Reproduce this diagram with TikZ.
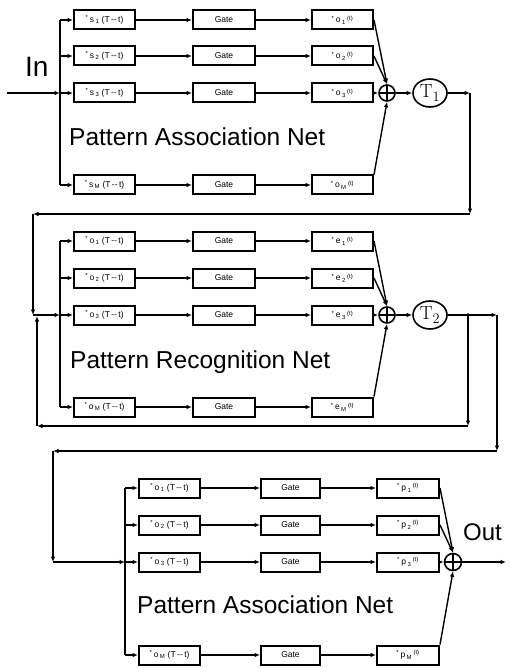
\documentclass[tikz,border=0pt]{standalone}
\usepackage{fontspec}
\newfontfamily\helv{Liberation Sans}
\usetikzlibrary{arrows.meta,shapes.geometric}

\newcommand{\tpast}[2]{\textsuperscript{*}\,#1\,\textsubscript{#2}\ (T\,--\,t)}
\newcommand{\tnow}[2]{\textsuperscript{*}\,#1\,\textsubscript{#2}\,\textsuperscript{(t)}}

\tikzset{
  blk/.style={draw, line width=2pt, minimum width=61pt, minimum height=19pt,
    inner sep=0pt, font=\helv\fontsize{8.5}{9}\selectfont},
  sum/.style={draw, circle, line width=1.6pt, minimum size=16pt, inner sep=0pt,
    path picture={\draw[line width=1.4pt]
      (path picture bounding box.north) -- (path picture bounding box.south)
      (path picture bounding box.west) -- (path picture bounding box.east);}},
  delay/.style={draw, ellipse, line width=1.6pt, minimum width=34pt,
    minimum height=28pt, inner sep=0pt, font=\fontsize{19}{19}\selectfont},
  lead/.style={line width=1.4pt},
  wire/.style={lead, -{Latex[length=5.5pt,width=4.5pt]}},
  netname/.style={anchor=base west, inner sep=0pt, font=\helv\fontsize{24.5}{25}\selectfont},
}

\begin{document}
\begin{tikzpicture}[x=1pt, y=-1pt]
  \useasboundingbox (0,0) rectangle (510,668);

  % first association net
  \foreach \i/\y in {1/20, 2/56, 3/93, M/185}{
    \coordinate (A-bus-\i) at (60,\y);
    \node[blk] (A-in-\i) at (104.5,\y) {\tpast{s}{\i}};
    \node[blk, minimum width=62pt] (A-gate-\i) at (224,\y) {Gate};
    \node[blk] (A-out-\i) at (342.5,\y) {\tnow{o}{\i}};
    \draw[wire] (A-bus-\i) -- (A-in-\i);
    \draw[wire] (A-in-\i) -- (A-gate-\i);
    \draw[wire] (A-gate-\i) -- (A-out-\i);
  }
  \draw[lead] (A-bus-1) -- (A-bus-M);
  \node[sum] (A-sum) at (387,93) {};
  \node[delay] (A-delay) at (430,93) {$\mathrm{T}_1$};
  \draw[wire] (A-out-1.east) -- (A-sum.north);
  \draw[wire] (A-out-2.east) -- (A-sum.north);
  \draw[wire] (A-out-3) -- (A-sum);
  \draw[wire] (A-out-M.north east) -- (A-sum.south);
  \draw[wire] (A-sum) -- (A-delay);
  \node[netname] (A-name) at (69,146) {Pattern Association Net};

  % input
  \coordinate (in) at (7,93);
  \draw[wire] (in) -- (A-bus-3);
  \node[anchor=base west, inner sep=0pt, font=\helv\fontsize{28}{28}\selectfont] (in-label) at (25,77) {In};

  % recognition net
  \foreach \i/\y in {1/241, 2/278, 3/315, M/407}{
    \coordinate (B-bus-\i) at (60,\y);
    \node[blk] (B-in-\i) at (104.5,\y) {\tpast{o}{\i}};
    \node[blk, minimum width=62pt] (B-gate-\i) at (224,\y) {Gate};
    \node[blk] (B-out-\i) at (342.5,\y) {\tnow{e}{\i}};
    \draw[wire] (B-bus-\i) -- (B-in-\i);
    \draw[wire] (B-in-\i) -- (B-gate-\i);
    \draw[wire] (B-gate-\i) -- (B-out-\i);
  }
  \draw[lead] (B-bus-1) -- (B-bus-M);
  \node[sum] (B-sum) at (387,315) {};
  \node[delay] (B-delay) at (430,315) {$\mathrm{T}_2$};
  \draw[wire] (B-out-1.east) -- (B-sum.north);
  \draw[wire] (B-out-2.east) -- (B-sum.north);
  \draw[wire] (B-out-3) -- (B-sum);
  \draw[wire] (B-out-M.north east) -- (B-sum.south);
  \draw[wire] (B-sum) -- (B-delay);
  \node[netname] (B-name) at (70,368) {Pattern Recognition Net};

  % T1 output round to the recognition net
  \coordinate (A-c1) at (470,93);
  \coordinate (A-c2) at (470,214);
  \coordinate (A-c3) at (33,214);
  \coordinate (A-c4) at (33,315);
  \draw[wire] (A-delay) -- (A-c1);
  \draw[wire] (A-c1) -- (A-c2);
  \draw[wire] (A-c2) -- (A-c3);
  \draw[wire] (A-c3) -- (A-c4);
  \draw[wire] (A-c4) -- (B-bus-3);

  % T2 output: fed back, and on to the last net
  \coordinate (B-j) at (468,315);
  \coordinate (B-k1) at (468,426);
  \coordinate (B-k2) at (37,426);
  \coordinate (B-k3) at (37,316);
  \coordinate (B-c1) at (497,315);
  \coordinate (B-c2) at (497,451);
  \coordinate (B-c3) at (53,451);
  \coordinate (B-c4) at (53,562);
  \draw[lead] (B-delay) -- (B-j);
  \fill (B-j) circle (1.8pt);
  \draw[wire] (B-j) -- (B-k1);
  \draw[wire] (B-k1) -- (B-k2);
  \draw[wire] (B-k2) -- (B-k3);
  \draw[wire] (B-j) -- (B-c1);
  \draw[wire] (B-c1) -- (B-c2);
  \draw[wire] (B-c2) -- (B-c3);
  \draw[wire] (B-c3) -- (B-c4);

  % second association net
  \foreach \i/\y in {1/488, 2/525, 3/562, M/655}{
    \coordinate (C-bus-\i) at (125,\y);
    \node[blk] (C-in-\i) at (169.5,\y) {\tpast{o}{\i}};
    \node[blk, minimum width=59pt] (C-gate-\i) at (290.5,\y) {Gate};
    \node[blk, minimum width=62pt] (C-out-\i) at (408,\y) {\tnow{p}{\i}};
    \draw[wire] (C-bus-\i) -- (C-in-\i);
    \draw[wire] (C-in-\i) -- (C-gate-\i);
    \draw[wire] (C-gate-\i) -- (C-out-\i);
  }
  \draw[lead] (C-bus-1) -- (C-bus-M);
  \draw[wire] (B-c4) -- (C-bus-3);
  \node[sum, minimum size=17pt] (C-sum) at (453,562) {};
  \draw[wire] (C-out-1.east) -- (C-sum.north);
  \draw[wire] (C-out-2.east) -- (C-sum.north);
  \draw[wire] (C-out-3) -- (C-sum);
  \draw[wire] (C-out-M.north east) -- (C-sum.south);
  \node[netname] (C-name) at (137,613) {Pattern Association Net};

  % output
  \coordinate (out) at (506,562);
  \draw[wire] (C-sum) -- (out);
  \node[anchor=base west, inner sep=0pt, font=\helv\fontsize{24}{24}\selectfont] (out-label) at (463,540) {Out};
\end{tikzpicture}
\end{document}
